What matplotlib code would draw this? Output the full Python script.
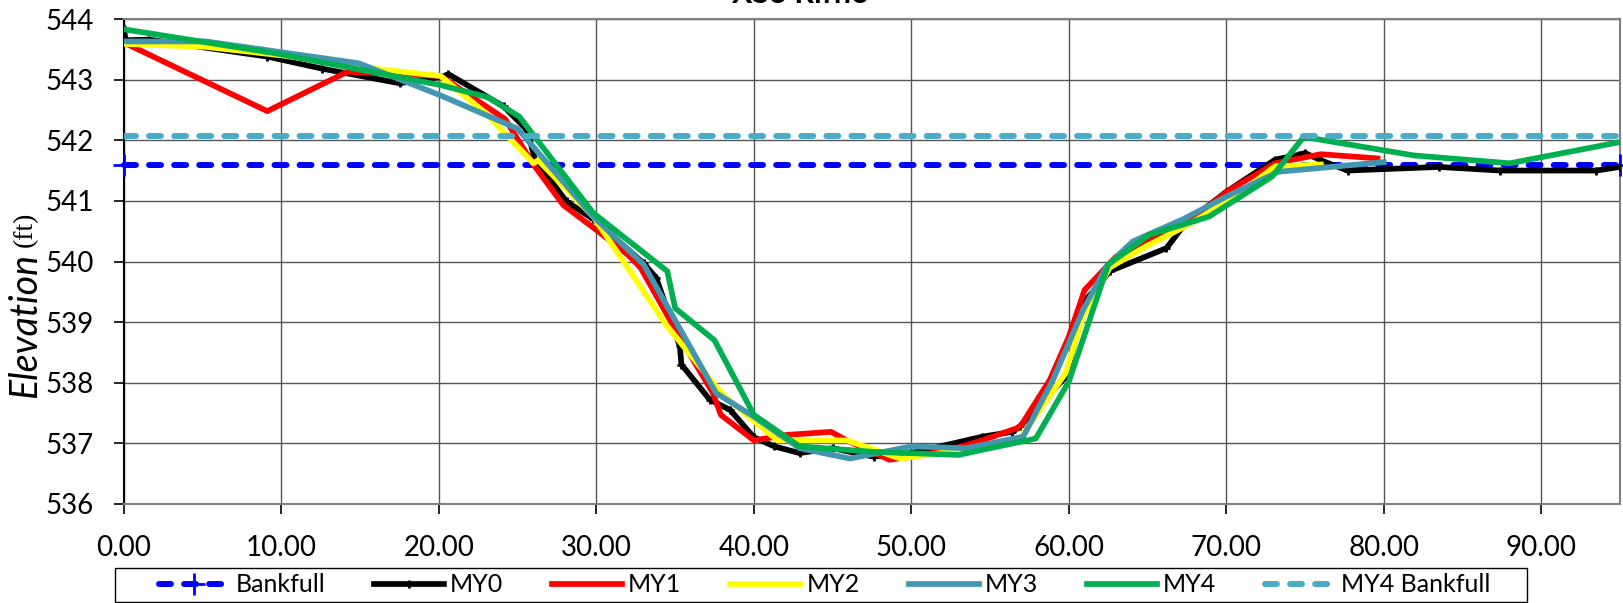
import numpy as np
from matplotlib import pyplot as plt
from matplotlib.patches import Rectangle

plt.rcParams['font.family'] = ['Lato', 'DejaVu Sans']

# station (ft) / elevation (ft)
my0_x = [0, 0.1, 1.6, 9.1, 12.6, 17.5, 20.4, 20.6, 24.1, 25.6, 26.1, 28.1, 29.8, 33.0, 33.8, 35.3, 35.4,
         37.2, 38.5, 40.0, 41.3, 42.9, 45.0, 47.6, 50.0, 54.5, 56.4, 56.9, 59.8, 61.1, 62.6, 66.2, 67.4,
         70.0, 73.1, 74.6, 75.0, 76.0, 77.7, 83.5, 87.4, 93.5, 95.0]
my0_y = [543.83, 543.65, 543.66, 543.38, 543.18, 542.94, 543.06, 543.09, 542.56, 542.17, 541.68, 540.99,
         540.70, 539.97, 539.73, 538.60, 538.30, 537.72, 537.55, 537.10, 536.95, 536.84, 536.92, 536.78,
         536.84, 537.11, 537.19, 537.28, 538.10, 539.37, 539.84, 540.22, 540.63, 541.15, 541.68, 541.76,
         541.79, 541.67, 541.50, 541.56, 541.50, 541.50, 541.56]

my1_x = [0, 9.1, 14.2, 20.1, 24.2, 26.0, 27.9, 30.1, 32.0, 32.8, 35.4, 37.4, 37.9, 40.0, 42.1, 44.9, 45.9,
         48.6, 50.0, 52.4, 54.5, 56.7, 57.0, 58.8, 60.0, 61.0, 63.0, 67.4, 70.2, 73.1, 76.0, 79.6]
my1_y = [543.61, 542.48, 543.13, 543.06, 542.35, 541.60, 540.93, 540.50, 540.11, 539.90, 538.70, 537.83,
         537.47, 537.05, 537.14, 537.19, 537.05, 536.73, 536.78, 536.89, 537.05, 537.25, 537.31, 538.05,
         538.76, 539.53, 540.08, 540.63, 541.18, 541.62, 541.77, 541.70]

my2_x = [0, 5.2, 10.0, 14.9, 20.1, 23.0, 26.0, 26.3, 29.8, 34.5, 38.1, 41.5, 45.9, 49.3, 52.4, 56.9,
         59.8, 60.9, 62.6, 64.9, 67.4, 70.4, 73.1, 76.0]
my2_y = [543.59, 543.54, 543.40, 543.21, 543.06, 542.44, 541.62, 541.67, 540.74, 538.93, 537.78, 537.05,
         537.05, 536.75, 536.86, 537.08, 538.16, 539.10, 539.90, 540.25, 540.58, 541.04, 541.57, 541.60]

my3_x = [0, 5.2, 14.9, 20.1, 25.0, 29.8, 33.0, 37.6, 40.0, 42.9, 46.1, 50.0, 53.5, 57.1, 59.0, 60.9,
         62.4, 64.05, 67.2, 70.0, 73.3, 80.0]
my3_y = [543.63, 543.63, 543.27, 542.74, 542.19, 540.74, 539.95, 537.83, 537.44, 536.92, 536.75, 536.95,
         536.92, 537.11, 538.05, 539.20, 539.92, 540.33, 540.69, 541.07, 541.48, 541.64]

my4_x = [0, 9.7, 20.1, 23.1, 25.1, 29.8, 34.5, 35.0, 37.5, 40.0, 42.9, 47.6, 53.0, 57.9, 60.0, 62.5,
         65.1, 68.9, 72.9, 74.9, 75.5, 81.9, 88.0, 95.0]
my4_y = [543.83, 543.43, 542.91, 542.71, 542.39, 540.80, 539.84, 539.23, 538.70, 537.47, 536.95, 536.86,
         536.81, 537.08, 538.02, 539.95, 540.44, 540.74, 541.40, 542.05, 542.03, 541.75, 541.62, 541.97]

bkf_x = [0, 95]
bkf_y = [541.60, 541.60]
my4_bkf_x = [0, 95]
my4_bkf_y = [542.07, 542.07]

xticks = np.arange(0, 100, 10)
yticks = np.arange(536, 545, 1)

W, H = 1623, 603
fig = plt.figure(figsize=(W/100, H/100), dpi=100)
ax = fig.add_axes([124/W, 1 - 504/H, (1620 - 124)/W, (504 - 19)/H])

lw = 4.1
ax.plot(bkf_x, bkf_y, color='#0000FF', lw=4.3, dashes=(2, 2.2), dash_capstyle='round',
        marker='+', ms=16, mew=2, label='Bankfull', clip_on=False, zorder=3)
ax.plot(my0_x, my0_y, color='black', lw=lw, marker='+', ms=6, mew=2, label='MY0', zorder=4)
ax.plot(my1_x, my1_y, color='#FF0000', lw=lw, label='MY1', zorder=5)
ax.plot(my2_x, my2_y, color='#FFFF00', lw=lw, label='MY2', zorder=6)
ax.plot(my3_x, my3_y, color='#4396B0', lw=lw, label='MY3', zorder=7)
ax.plot(my4_x, my4_y, color='#00B050', lw=lw, label='MY4', zorder=8)
ax.plot(my4_bkf_x, my4_bkf_y, color='#4BACC6', lw=4.3, dashes=(2, 2.2), dash_capstyle='round',
        label='MY4 Bankfull', zorder=9)

ax.set_xlim(0, 95)
ax.set_ylim(536, 544)
ax.set_xticks(xticks)
ax.set_xticklabels(['%.2f' % v for v in xticks])
ax.set_yticks(yticks)
ax.tick_params(axis='both', labelsize=20, length=7, width=1.2, direction='out', pad=15)
ax.grid(True, color='#555555', lw=1.0)
ax.set_axisbelow(True)
for s in ['top', 'bottom', 'right']:
    ax.spines[s].set_color('#808080')
    ax.spines[s].set_linewidth(1.5)
ax.spines['left'].set_color('black')
ax.spines['left'].set_linewidth(1.5)

fig.text(800/W, 1 - 3/H, 'XS3 Riffle', ha='center', va='baseline', fontsize=22, fontweight='bold')

# y label: italic word with a smaller serif unit right after it
elev = fig.text(25/W, 1 - 398/H, 'Elevation', rotation=90, ha='center', va='bottom',
                fontsize=27, style='italic')
fig.canvas.draw()
bb = elev.get_window_extent()
fig.text(25/W, (bb.y1 + 6) / fig.bbox.height, '(ft)', rotation=90, ha='center', va='bottom',
         fontsize=20, family=['Liberation Serif', 'DejaVu Serif'])

# legend box drawn separately so it can have wider side padding
fig.add_artist(Rectangle((115/W, 1 - 602/H), (1527 - 115)/W, 34/H, transform=fig.transFigure,
                         facecolor='white', edgecolor='black', lw=1.0, zorder=1))
leg = fig.legend(loc='center left', bbox_to_anchor=(159/W, 1 - 585/H), ncol=7, fontsize=18,
                 frameon=False, handlelength=2.8, handletextpad=0.25, columnspacing=1.95,
                 borderpad=0, borderaxespad=0)
leg.set_zorder(2)

fig.savefig('out.png', dpi=100)
